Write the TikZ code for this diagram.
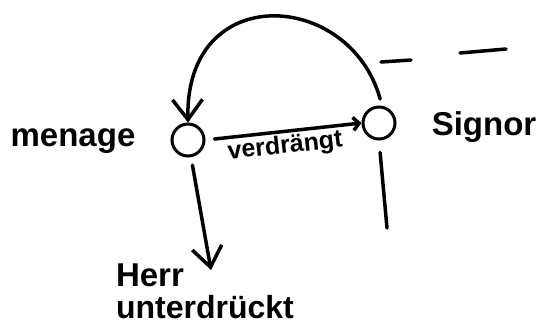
\documentclass[tikz,border=0pt]{standalone}
\usepackage{fontspec}
\setmainfont{Liberation Sans}
\usetikzlibrary{arrows.meta,positioning}
\tikzset{
  spot/.style={circle,draw,line width=3pt,minimum size=32pt,inner sep=0pt},
  word/.style={font=\fontsize{33}{35}\selectfont\bfseries,inner sep=0pt,anchor=base},
  smallword/.style={font=\fontsize{25}{27}\selectfont\bfseries,inner sep=2pt},
  stroke/.style={line width=3.5pt,line cap=round},
  bigarrow/.style={stroke,-{Straight Barb[length=20pt,width=30pt]}},
  smallarrow/.style={stroke,-{Straight Barb[length=6pt,width=13pt]}}
}
\begin{document}
\begin{tikzpicture}[x=1pt,y=-1pt]
  \useasboundingbox (0,0) rectangle (551,325);
  % the two poles
  \node[spot] (men) at (188,140) {};
  \node[spot] (sig) at (379,123) {};
  \node[word] (menage) at (73,146) {menage};
  \node[word] (signor) at (484,135) {Signor};
  \node[word] (herr) at (150,286) {Herr};
  \node[word,font=\fontsize{32}{34}\selectfont\bfseries] (unter) at (205,318) {unterdrückt};
  \coordinate (down) at (211,270);
  \coordinate (tail) at (387,228);
  \coordinate (dasha) at (381,62);
  \coordinate (dashb) at (411,60);
  \coordinate (dashc) at (460,53);
  \coordinate (dashd) at (506,49);
  % connectors
  \draw[smallarrow,shorten <=9pt] (men.east) -- (sig.west)
    node[smallword,midway,below,sloped] (verd) {verdrängt};
  \draw[bigarrow,shorten <=7pt] (sig.80) .. controls (350,-10) and (185,-20) .. (men.north);
  \draw[bigarrow,shorten <=8pt] (men.-80) -- (down);
  \draw[stroke,shorten <=12pt] (sig.south) -- (tail);
  \draw[stroke] (dasha) -- (dashb);
  \draw[stroke] (dashc) -- (dashd);
\end{tikzpicture}
\end{document}
